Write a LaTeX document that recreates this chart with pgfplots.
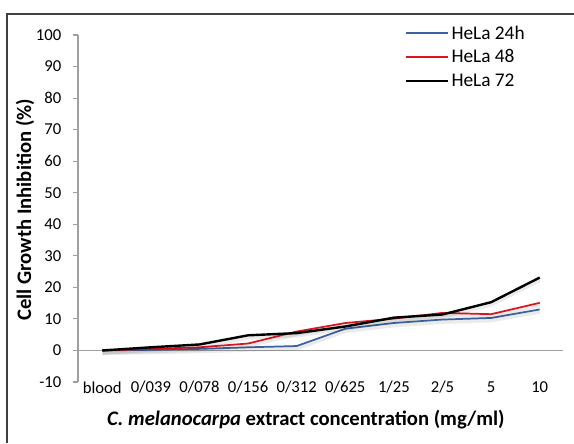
\documentclass[border=0pt]{standalone}
\usepackage{pgfplots}
\pgfplotsset{compat=1.18}
\usepackage{fontspec}
\setmainfont{Carlito}
\definecolor{hblue}{RGB}{58,98,160}
\definecolor{hred}{RGB}{220,20,30}
\definecolor{axgray}{RGB}{160,160,160}
\definecolor{frame}{RGB}{64,64,64}
\tikzset{shad/.style={preaction={draw=black, draw opacity=0.08, line width=3pt, transform canvas={yshift=-1.8pt}}}}
\begin{document}
\begin{tikzpicture}
\path[use as bounding box] (0,0) rectangle (430.5pt,332.25pt);
\draw[frame, line width=1.1pt] (5.25pt,0) -- (5.25pt,321.75pt) -- (432pt,321.75pt);
\begin{axis}[
  at={(58.5pt,45.75pt)}, anchor=south west,
  scale only axis, width=364.5pt, height=260.25pt,
  xmin=-0.5, xmax=9.5, ymin=-10, ymax=100,
  axis y line*=left, axis x line*=bottom,
  x axis line style={draw=none},
  y axis line style={axgray, line width=0.8pt},
  xtick={0,...,9},
  xticklabels={blood,0/039,0/078,0/156,0/312,0/625,1/25,2/5,5,10},
  xtick style={draw=none},
  ytick={-10,0,10,...,100},
  tick align=outside,
  major tick length=4pt,
  ytick style={axgray, line width=0.8pt},
  tick label style={font=\fontsize{12.5}{15}\selectfont},
  /pgf/number format/assume math mode=true,
  xticklabel style={anchor=center, yshift=0pt},
  yticklabel style={xshift=-5pt},
  xlabel={\textit{C. melanocarpa} extract concentration (mg/ml)},
  ylabel={Cell Growth Inhibition (\%)},
  label style={font=\bfseries\fontsize{15.5}{18}\selectfont},
  xlabel style={at={(axis description cs:0.469,-0.1095)}, anchor=center},
  ylabel style={at={(axis description cs:-0.109,0.496)}, anchor=center},
  legend style={draw=none, fill=none, at={(axis description cs:0.667,1.043)}, anchor=north west,
    font=\fontsize{14.5}{17}\selectfont, row sep=2.5pt, inner sep=2pt},
  legend cell align=left,
  legend image code/.code={\draw[#1] (0pt,0pt) -- (31pt,0pt);},
  clip=false,
]
\addplot[axgray, line width=0.8pt, forget plot] coordinates {(-0.5,0) (9.48,0)};
\addplot[hblue, line width=1.3pt, shad, forget plot] coordinates {(0,0) (1,0.2) (2,0.5) (3,1.0) (4,1.4) (5,6.9) (6,8.7) (7,9.8) (8,10.3) (9,13.0)};
\addplot[hred, line width=1.3pt, shad, forget plot] coordinates {(0,0) (1,0.5) (2,1.0) (3,2.2) (4,6.0) (5,8.7) (6,10.1) (7,11.9) (8,11.5) (9,15.1)};
\addplot[black, line width=1.8pt, shad, forget plot] coordinates {(0,0) (1,1.0) (2,1.9) (3,4.8) (4,5.5) (5,7.6) (6,10.4) (7,11.4) (8,15.3) (9,23.1)};
\addlegendimage{draw=hblue, line width=1.4pt}
\addlegendentry{HeLa 24h}
\addlegendimage{draw=hred, line width=1.4pt}
\addlegendentry{HeLa 48}
\addlegendimage{draw=black, line width=1.8pt}
\addlegendentry{HeLa 72}
\end{axis}
\end{tikzpicture}
\end{document}
